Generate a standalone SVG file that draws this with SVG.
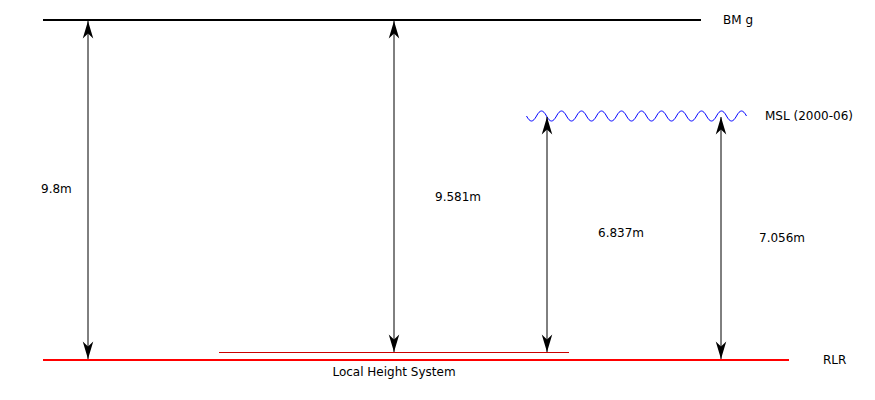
<svg xmlns="http://www.w3.org/2000/svg" width="875" height="400" viewBox="0 0 875 400">
<style>
text{font-family:"DejaVu Sans",sans-serif;font-size:12px;fill:#000}
.arr{stroke:#000;stroke-width:1;fill:none;marker-start:url(#ah);marker-end:url(#ah)}
</style>
<defs>
<marker id="ah" markerUnits="userSpaceOnUse" orient="auto-start-reverse" markerWidth="20" markerHeight="20" viewBox="-15 -6 16 12" refX="0" refY="0">
<path d="M0,0 L-14,-4.2 L-10,0 L-14,4.2 Z" fill="#000"/>
</marker>
</defs>
<rect width="875" height="400" fill="#fff"/>
<g id="bmg">
<line x1="43" y1="20" x2="701" y2="20" stroke="#000" stroke-width="2"/>
<text x="723" y="24">BM g</text>
</g>
<g id="msl">
<path d="M526.5,116 c3.64,6.67 6.36,6.67 10,0 s6.36,-6.67 10,0 s6.36,6.67 10,0 s6.36,-6.67 10,0 s6.36,6.67 10,0 s6.36,-6.67 10,0 s6.36,6.67 10,0 s6.36,-6.67 10,0 s6.36,6.67 10,0 s6.36,-6.67 10,0 s6.36,6.67 10,0 s6.36,-6.67 10,0 s6.36,6.67 10,0 s6.36,-6.67 10,0 s6.36,6.67 10,0 s6.36,-6.67 10,0 s6.36,6.67 10,0 s6.36,-6.67 10,0 s6.36,6.67 10,0 s6.36,-6.67 10,0 s6.36,6.67 10,0 s6.36,-6.67 10,0" fill="none" stroke="#0000ff" stroke-width="1"/>
<text x="765" y="120">MSL (2000-06)</text>
</g>
<g id="rlr">
<line x1="43" y1="360" x2="789" y2="360" stroke="#ff0000" stroke-width="2"/>
<text x="823" y="364">RLR</text>
</g>
<g id="local">
<line x1="219" y1="352.5" x2="569" y2="352.5" stroke="#cc0000" stroke-width="1"/>
<text x="394" y="376" text-anchor="middle">Local Height System</text>
</g>
<g id="connectors">
<line class="arr" x1="88" y1="21" x2="88" y2="359"/>
<line class="arr" x1="394" y1="21" x2="394" y2="352"/>
<line class="arr" x1="547" y1="117" x2="547" y2="352"/>
<line class="arr" x1="721" y1="117" x2="721" y2="359"/>
</g>
<g id="labels">
<text x="41" y="193">9.8m</text>
<text x="435" y="201">9.581m</text>
<text x="598" y="237">6.837m</text>
<text x="759" y="242">7.056m</text>
</g>
</svg>
